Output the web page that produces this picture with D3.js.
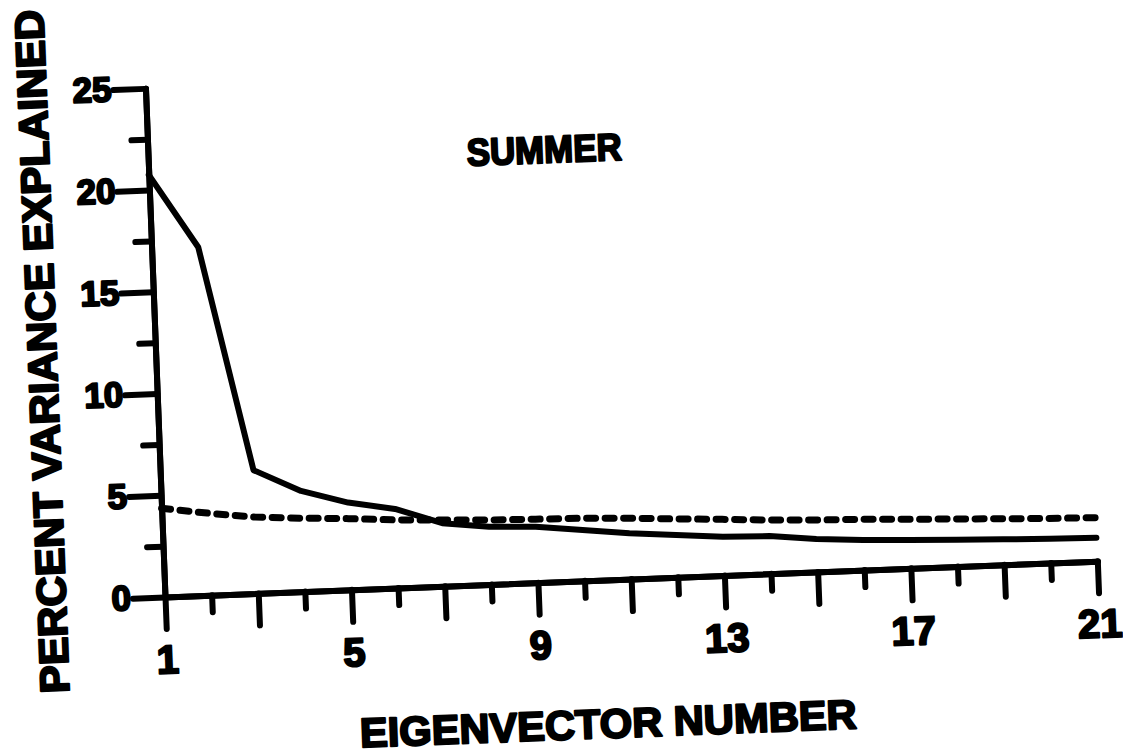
<!DOCTYPE html>
<html>
<head>
<meta charset="utf-8">
<script src="https://cdn.jsdelivr.net/npm/d3@7"></script>
<style>
    body { margin: 0; background: #fff; }
    svg { display: block; background: #fff; }
    .axis path, .axis line { stroke: #000; stroke-width: 6; stroke-linecap: round; }
    .axis text, .chart-text {
        font-family: "Liberation Sans", Arial, sans-serif;
        font-weight: bold;
        fill: #000;
        stroke: #000;
        stroke-width: 2.2px;
        stroke-linejoin: round;
    }
</style>
</head>
<body>
<svg id="chart"></svg>
<script>

// eigenvector numbers (x)
const eigenvectorNumbers = [1, 2, 3, 4, 5, 6, 7, 8, 9, 10, 11, 12, 13, 14, 15, 16, 17, 18, 19, 20, 21];

// percent variance explained (solid line)
const percentVariance = [20.75, 17.1, 6.06, 4.95, 4.29, 3.89, 3.1, 2.84, 2.75, 2.5, 2.25,
    2.08, 1.91, 1.85, 1.62, 1.48, 1.39, 1.32, 1.25, 1.19, 1.15];

// reference curve (dashed line)
const referenceVariance = [4.36, 4.03, 3.75, 3.61, 3.5, 3.35, 3.26, 3.17, 3.12, 3.08, 2.99,
    2.87, 2.76, 2.64, 2.55, 2.5, 2.41, 2.34, 2.26, 2.19, 2.14];

// ticks
const yMajorTicks = [0, 5, 10, 15, 20, 25];
const yMinorTicks = [2.5, 7.5, 12.5, 17.5, 22.5];
const xMajorTicks = [1, 3, 5, 7, 9, 11, 13, 15, 17, 19, 21];
const xMinorTicks = [2, 4, 6, 8, 10, 12, 14, 16, 18, 20];
const xLabelTicks = [1, 5, 9, 13, 17, 21];

class ScreePlot {

    constructor(parentElement, xs, solid, dashed) {
        this.parentElement = parentElement;
        this.displayData = xs.map((x, i) => ({ x: x, solid: solid[i], dashed: dashed[i] }));
        this.initVis();
    }

    initVis() {
        let vis = this;

        vis.svgWidth = 1123;
        vis.svgHeight = 756;
        vis.margin = { top: 88, right: 25, bottom: 159, left: 165 };
        vis.width = 933;
        vis.height = 509;

        vis.svg = d3.select("#" + vis.parentElement)
            .attr("width", vis.svgWidth)
            .attr("height", vis.svgHeight);

        // the scanned figure is tilted a little, so the whole drawing is turned
        vis.root = vis.svg.append("g")
            .attr("transform", `rotate(-2.2, ${vis.margin.left}, ${vis.margin.top + vis.height})`);

        vis.xScale = d3.scaleLinear()
            .domain([1, 21])
            .range([vis.margin.left, vis.margin.left + vis.width]);

        vis.yScale = d3.scaleLinear()
            .domain([0, 25])
            .range([vis.margin.top + vis.height, vis.margin.top]);

        vis.updateVis();
    }

    updateVis() {
        let vis = this;
        let x0 = vis.margin.left;
        let y0 = vis.margin.top + vis.height;

        // x axis: minor, then major ticks
        vis.root.append("g")
            .attr("class", "axis")
            .attr("transform", `translate(0, ${y0})`)
            .call(d3.axisBottom(vis.xScale).tickValues(xMinorTicks).tickSize(17).tickSizeOuter(0).tickFormat(""));

        vis.root.append("g")
            .attr("class", "axis")
            .attr("transform", `translate(0, ${y0})`)
            .call(d3.axisBottom(vis.xScale)
                .tickValues(xMajorTicks)
                .tickSize(32)
                .tickSizeOuter(0)
                .tickPadding(16)
                .tickFormat(d => xLabelTicks.includes(d) ? d : ""))
            .selectAll("text")
            .style("font-size", "40px");

        // y axis
        vis.root.append("g")
            .attr("class", "axis")
            .attr("transform", `translate(${x0}, 0)`)
            .call(d3.axisLeft(vis.yScale).tickValues(yMinorTicks).tickSize(16).tickSizeOuter(0).tickFormat(""));

        vis.root.append("g")
            .attr("class", "axis")
            .attr("transform", `translate(${x0}, 0)`)
            .call(d3.axisLeft(vis.yScale)
                .tickValues(yMajorTicks)
                .tickSize(32)
                .tickSizeOuter(0)
                .tickPadding(2))
            .selectAll("text")
            .style("font-size", "35px");

        // lines
        let solidLine = d3.line()
            .x(d => vis.xScale(d.x))
            .y(d => vis.yScale(d.solid));

        let dashedLine = d3.line()
            .x(d => vis.xScale(d.x))
            .y(d => vis.yScale(d.dashed));

        vis.root.append("path")
            .datum(vis.displayData)
            .attr("fill", "none")
            .attr("stroke", "#000")
            .attr("stroke-width", 7)
            .attr("stroke-dasharray", "9,9.5")
            .attr("stroke-linecap", "round")
            .attr("d", dashedLine);

        vis.root.append("path")
            .datum(vis.displayData)
            .attr("fill", "none")
            .attr("stroke", "#000")
            .attr("stroke-width", 6)
            .attr("stroke-linejoin", "round")
            .attr("stroke-linecap", "round")
            .attr("d", solidLine);

        // titles
        vis.root.append("text")
            .attr("class", "chart-text")
            .attr("x", 561)
            .attr("y", 164)
            .attr("dy", "0.36em")
            .attr("text-anchor", "middle")
            .attr("font-size", 38)
            .attr("textLength", 155)
            .attr("lengthAdjust", "spacingAndGlyphs")
            .text("SUMMER");

        vis.root.append("text")
            .attr("class", "chart-text")
            .attr("x", 603)
            .attr("y", 740)
            .attr("dy", "0.36em")
            .attr("text-anchor", "middle")
            .attr("font-size", 41)
            .attr("textLength", 497)
            .attr("lengthAdjust", "spacingAndGlyphs")
            .text("EIGENVECTOR NUMBER");

        vis.root.append("text")
            .attr("class", "chart-text")
            .attr("transform", "translate(51, 347) rotate(-90)")
            .attr("dy", "0.36em")
            .attr("text-anchor", "middle")
            .attr("font-size", 41)
            .attr("textLength", 684)
            .attr("lengthAdjust", "spacingAndGlyphs")
            .text("PERCENT VARIANCE EXPLAINED");
    }
}

new ScreePlot("chart", eigenvectorNumbers, percentVariance, referenceVariance);
</script>
</body>
</html>
